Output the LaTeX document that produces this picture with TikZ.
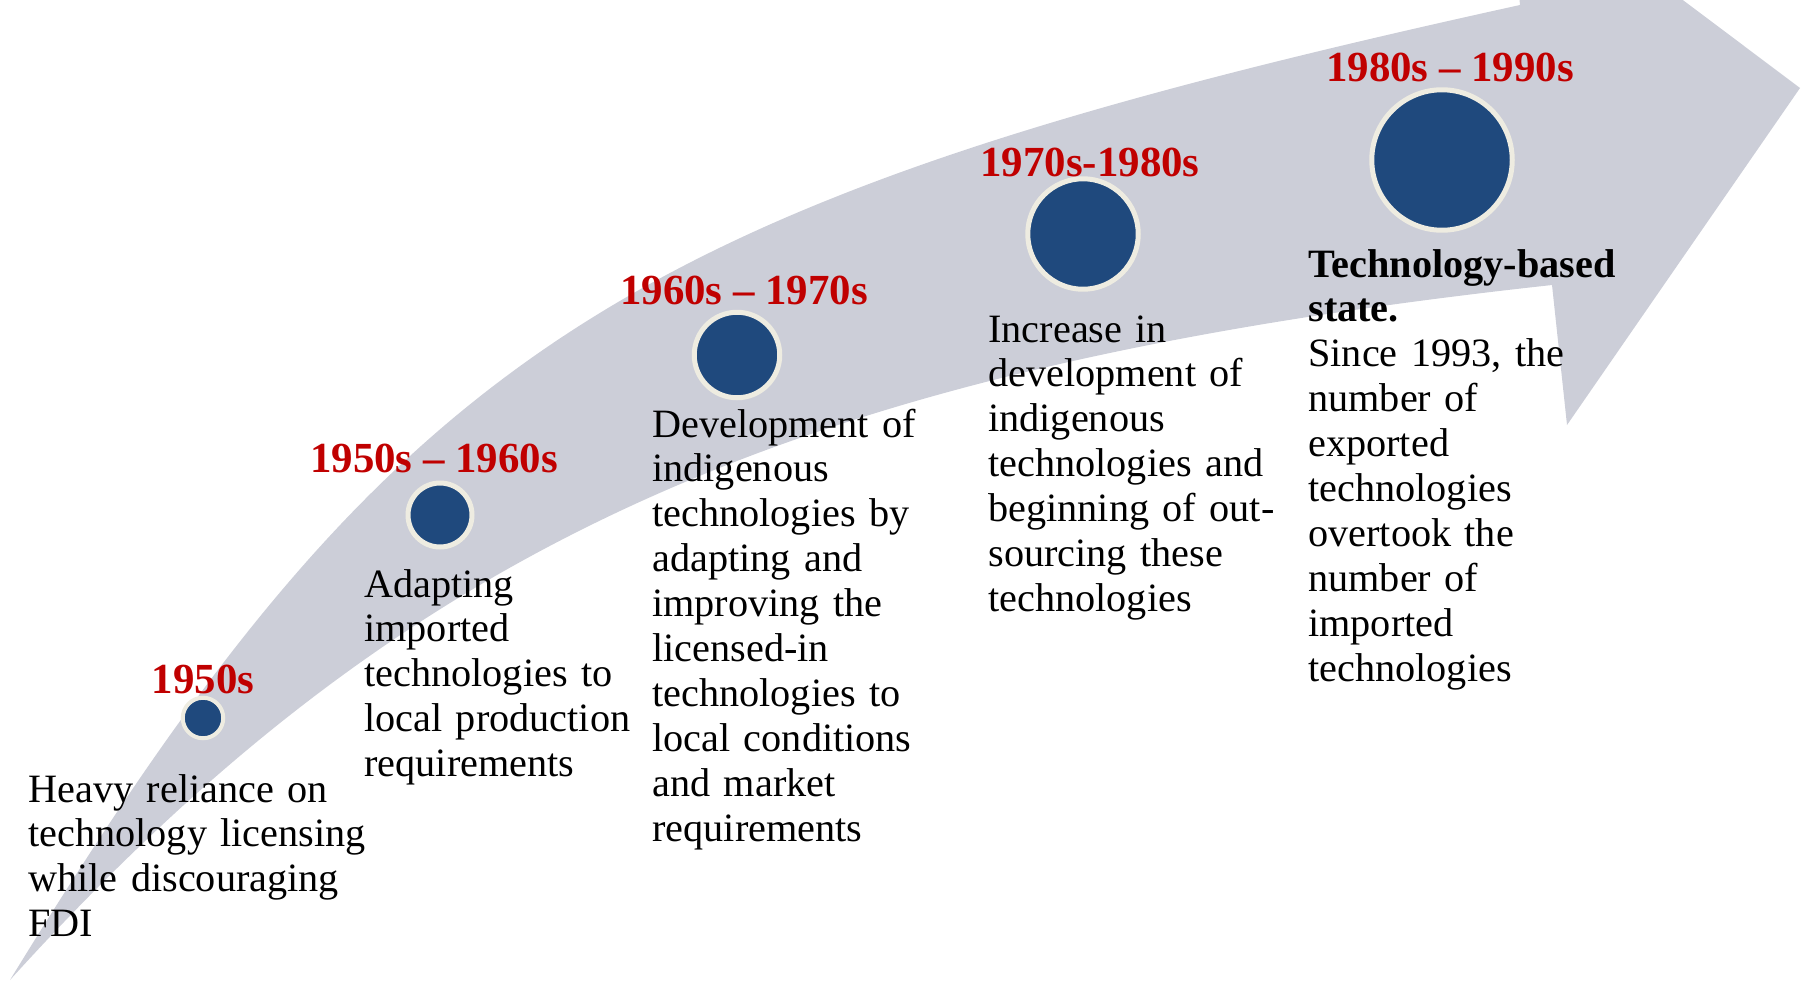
\documentclass[tikz,border=0pt]{standalone}
\usepackage{fontspec}
\setmainfont{Liberation Serif}
\usepackage{tikz}
\definecolor{arrowgrey}{RGB}{204,206,216}
\definecolor{ringblue}{RGB}{31,73,125}
\definecolor{ringcream}{RGB}{238,236,225}
\definecolor{labelred}{RGB}{192,0,0}
\tikzset{
  period/.style={circle, fill=ringblue, draw=ringcream, line width=0.1cm, inner sep=0pt},
  yearlabel/.style={anchor=base, inner sep=0pt, text=labelred, font=\fontsize{24.4}{28}\selectfont\bfseries},
  stagetext/.style={anchor=base west, inner sep=0pt, align=left, text width=7cm, font=\fontsize{22.9}{25.6}\selectfont}
}

\begin{document}
\begin{tikzpicture}[x=0.02cm, y=-0.02cm]
			%%%%% START %%%%%
			\useasboundingbox (0,0) rectangle (1801,981);
			\clip (0,0) rectangle (1801,981);
			
			% curved arrow
			\fill[arrowgrey] (10,980) .. controls (397,348) and (623,202) .. (1520,5)
				-- (1507,-132) -- (1800,88) -- (1567,425) -- (1552,285)
				.. controls (793,368) and (407,542) .. (10,980) -- cycle;
			
			% circles
			\node[period, minimum size=0.81cm, line width=0.08cm] (c50) at (203,718) {};
			\node[period, minimum size=1.28cm] (c5060) at (440,515) {};
			\node[period, minimum size=1.71cm] (c6070) at (737,355) {};
			\node[period, minimum size=2.21cm] (c7080) at (1083,234) {};
			\node[period, minimum size=2.81cm] (c8090) at (1442,160) {};
			
			% years
			\node[yearlabel] (l50) at (203,693) {1950s};
			\node[yearlabel] (l5060) at (434,472) {1950s -- 1960s};
			\node[yearlabel] (l6070) at (744,304) {1960s -- 1970s};
			\node[yearlabel] (l7080) at (1090,176) {1970s-1980s};
			\node[yearlabel] (l8090) at (1450,81) {1980s -- 1990s};
			
			% texts
			\node[stagetext] (t50) at (28,802) {Heavy reliance on\\technology licensing\\while discouraging\\FDI};
			\node[stagetext] (t5060) at (364,597) {Adapting\\imported\\technologies to\\local production\\requirements};
			\node[stagetext] (t6070) at (652,437) {Development of\\indigenous\\technologies by\\adapting and\\improving the\\licensed-in\\technologies to\\local conditions\\and market\\requirements};
			\node[stagetext] (t7080) at (988,342) {Increase in\\development of\\indigenous\\technologies and\\beginning of out-\\sourcing these\\technologies};
			\node[stagetext] (t8090) at (1308,277) {\textbf{Technology-based}\\\textbf{state.}\\Since 1993, the\\number of\\exported\\technologies\\overtook the\\number of\\imported\\technologies};
			
			%%%%% END %%%%%
\end{tikzpicture}
\end{document}
